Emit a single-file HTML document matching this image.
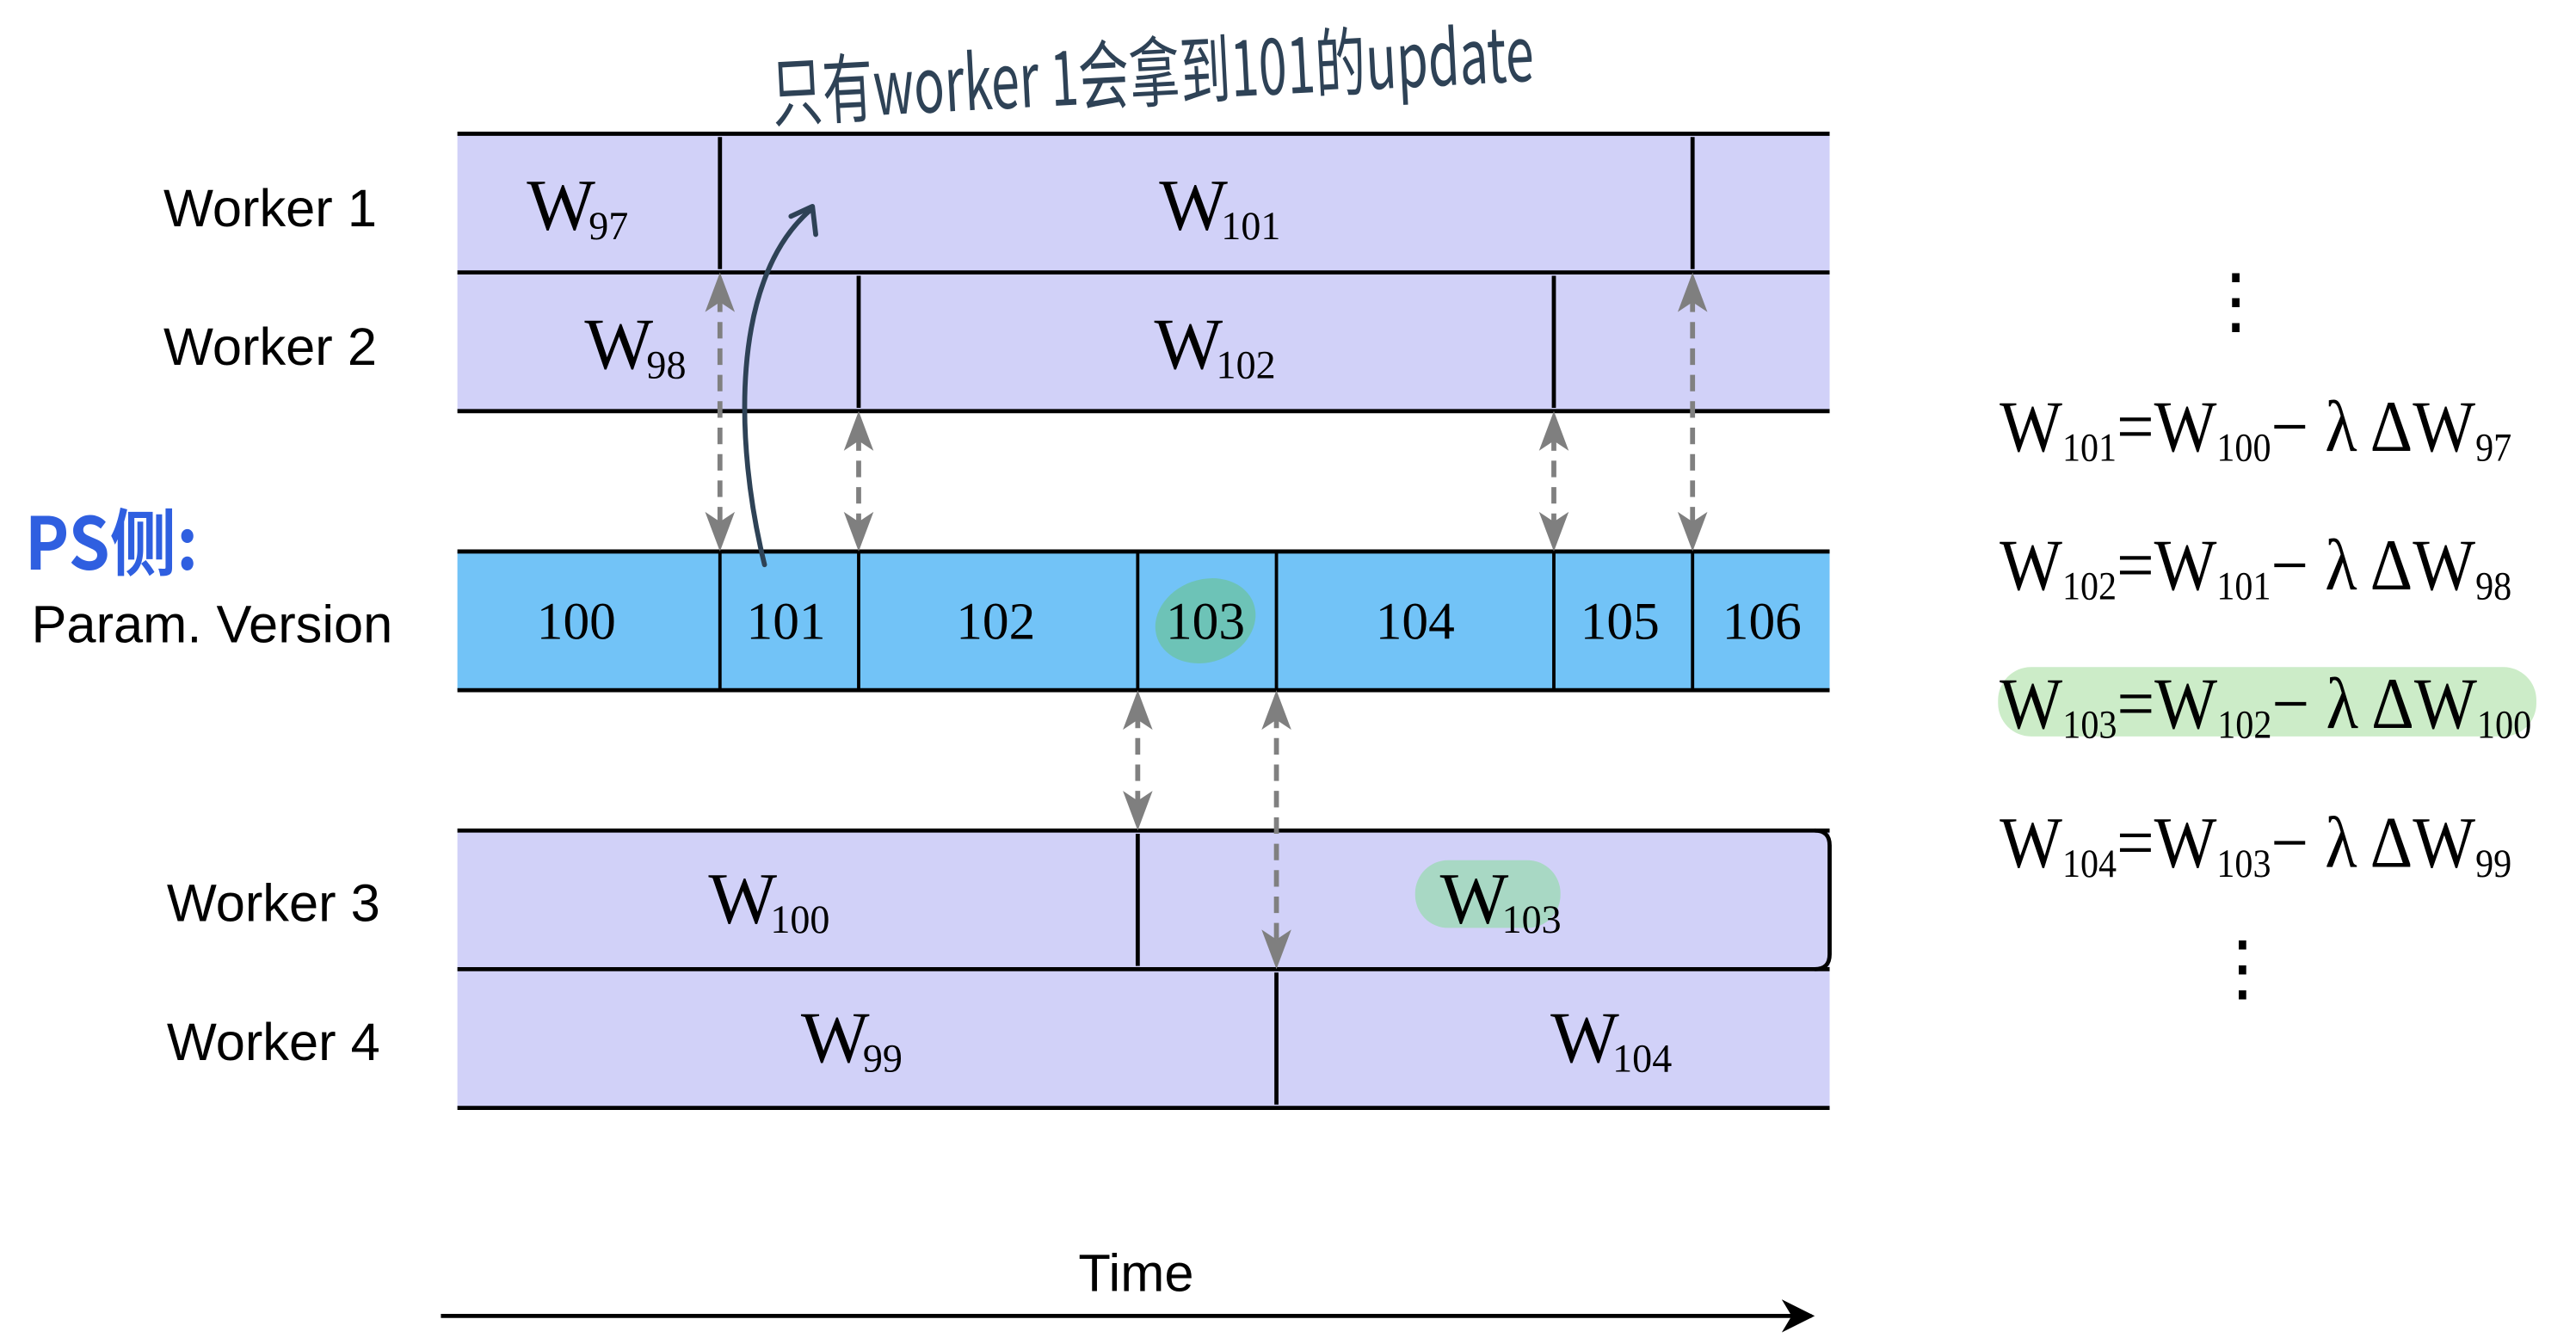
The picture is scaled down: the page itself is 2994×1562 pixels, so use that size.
<!DOCTYPE html>
<html><head><meta charset="utf-8"><style>
html,body{margin:0;padding:0;background:#fff;}
svg{display:block;}
.lbl{font-family:"Liberation Sans",sans-serif;font-size:32px;fill:#000;}
.w{font-family:"Liberation Serif",serif;font-size:44px;fill:#000;}
.s{font-size:24px;}
.n{font-family:"Liberation Serif",serif;font-size:32px;fill:#000;text-anchor:middle;}
.eq{font-family:"Liberation Serif",serif;font-size:44px;fill:#000;}
</style></head><body>
<svg width="2994" height="1562" viewBox="0 0 1560 814" preserveAspectRatio="none" xmlns="http://www.w3.org/2000/svg">
<defs>
<marker id="bh" viewBox="0 0 10 10" refX="9" refY="5" markerWidth="8" markerHeight="8" orient="auto">
<path d="M0,0 L10,5 L0,10 L3,5 z" fill="#000"/></marker>
<path id="up" d="M0,0 L9,24 L0,18 L-9,24 z" fill="#7f7f7f"/>
<path id="dn" d="M0,0 L9,-24 L0,-18 L-9,-24 z" fill="#7f7f7f"/>
</defs>
<g transform="translate(-3,-1)">
<text x="470" y="62" font-family="'WenQuanYi Zen Hei','Noto Sans CJK SC',sans-serif" font-size="46" fill="#2e4256" textLength="462" lengthAdjust="spacingAndGlyphs" transform="rotate(-3 700 45)">只有worker 1会拿到101的update</text>
<text x="18" y="346" font-family="'WenQuanYi Zen Hei','Noto Sans CJK SC',sans-serif" font-size="44" font-weight="bold" fill="#2f5fe0" textLength="105" lengthAdjust="spacingAndGlyphs">PS侧:</text>

<text class="lbl" x="102" y="138">Worker 1</text>
<text class="lbl" x="102" y="222">Worker 2</text>
<text class="lbl" x="22" y="390">Param. Version</text>
<text class="lbl" x="104" y="559">Worker 3</text>
<text class="lbl" x="104" y="643">Worker 4</text>

<g fill="#d1d1f8">
<rect x="280" y="82" width="831" height="84"/>
<rect x="280" y="166" width="831" height="84"/>
<rect x="280" y="504" width="831" height="84"/>
<rect x="280" y="588" width="831" height="84"/>
</g>
<rect x="280" y="335" width="831" height="84" fill="#72c3f7"/>
<g stroke="#000" stroke-width="2.5" fill="none">
<line x1="280" y1="82" x2="1111" y2="82"/>
<line x1="280" y1="166" x2="1111" y2="166"/>
<line x1="280" y1="250" x2="1111" y2="250"/>
<line x1="280" y1="335" x2="1111" y2="335"/>
<line x1="280" y1="419" x2="1111" y2="419"/>
<line x1="280" y1="504" x2="1111" y2="504"/>
<line x1="280" y1="588" x2="1111" y2="588"/>
<line x1="280" y1="672" x2="1111" y2="672"/>
<line x1="439" y1="84" x2="439" y2="164"/>
<line x1="1028" y1="84" x2="1028" y2="164"/>
<line x1="523" y1="168" x2="523" y2="248"/>
<line x1="944" y1="168" x2="944" y2="248"/>
<line x1="692" y1="506" x2="692" y2="586"/>
<line x1="776" y1="590" x2="776" y2="670"/>
<path d="M1102,504 Q1111,504 1111,513 L1111,579 Q1111,588 1102,588"/>
<g stroke-width="2">
<line x1="439" y1="335" x2="439" y2="419"/>
<line x1="523" y1="335" x2="523" y2="419"/>
<line x1="692" y1="335" x2="692" y2="419"/>
<line x1="776" y1="335" x2="776" y2="419"/>
<line x1="944" y1="335" x2="944" y2="419"/>
<line x1="1028" y1="335" x2="1028" y2="419"/>
</g>
</g>

<ellipse cx="733" cy="377" rx="31" ry="25" fill="#6cc3a6" opacity="0.8" transform="rotate(-20 733 377)"/>
<rect x="860" y="522" width="88" height="41" rx="20" fill="#a8d8c4"/>
<rect x="1213" y="405" width="326" height="42" rx="20" fill="#ccecc8"/>

<text class="n" x="352" y="388">100</text>
<text class="n" x="479" y="388">101</text>
<text class="n" x="606" y="388">102</text>
<text class="n" x="733" y="388" fill="#2b5230">103</text>
<text class="n" x="860" y="388">104</text>
<text class="n" x="984" y="388">105</text>
<text class="n" x="1070" y="388">106</text>

<text class="w" x="322" y="140">W<tspan class="s" dx="-4" dy="6">97</tspan></text>
<text class="w" x="705" y="140">W<tspan class="s" dx="-4" dy="6">101</tspan></text>
<text class="w" x="357" y="224">W<tspan class="s" dx="-4" dy="6">98</tspan></text>
<text class="w" x="702" y="224">W<tspan class="s" dx="-4" dy="6">102</tspan></text>
<text class="w" x="432" y="560">W<tspan class="s" dx="-4" dy="6">100</tspan></text>
<text class="w" x="875" y="560" fill="#1f3d20">W<tspan class="s" dx="-4" dy="6">103</tspan></text>
<text class="w" x="488" y="644">W<tspan class="s" dx="-4" dy="6">99</tspan></text>
<text class="w" x="942" y="644">W<tspan class="s" dx="-4" dy="6">104</tspan></text>

<g stroke="#808080" stroke-width="3" stroke-dasharray="10,6" fill="none">
<line x1="439" y1="180" x2="439" y2="320"/>
<line x1="523" y1="264" x2="523" y2="320"/>
<line x1="944" y1="264" x2="944" y2="320"/>
<line x1="1028" y1="180" x2="1028" y2="320"/>
<line x1="692" y1="432" x2="692" y2="490"/>
<line x1="776" y1="432" x2="776" y2="574"/>
</g>
<use href="#up" x="439" y="166"/><use href="#dn" x="439" y="335"/>
<use href="#up" x="523" y="250"/><use href="#dn" x="523" y="335"/>
<use href="#up" x="944" y="250"/><use href="#dn" x="944" y="335"/>
<use href="#up" x="1028" y="166"/><use href="#dn" x="1028" y="335"/>
<use href="#up" x="692" y="419"/><use href="#dn" x="692" y="504"/>
<use href="#up" x="776" y="419"/><use href="#dn" x="776" y="588"/>

<path d="M466,343 C448,270 445,170 494,128" stroke="#2e4256" stroke-width="3" fill="none" stroke-linecap="round"/>
<path d="M482,132 L495,126 L497,143" stroke="#2e4256" stroke-width="3" fill="none" stroke-linecap="round" stroke-linejoin="round"/>

<text class="eq" x="1357" y="198" text-anchor="middle" font-size="40">⋮</text>
<text class="eq" x="1214" y="274" textLength="310" lengthAdjust="spacingAndGlyphs">W<tspan class="s" font-size="26" dy="6">101</tspan><tspan dy="-6">=W</tspan><tspan class="s" font-size="26" dy="6">100</tspan><tspan dy="-6">− λ ΔW</tspan><tspan class="s" font-size="26" dy="6">97</tspan></text>
<text class="eq" x="1214" y="358" textLength="310" lengthAdjust="spacingAndGlyphs">W<tspan class="s" font-size="26" dy="6">102</tspan><tspan dy="-6">=W</tspan><tspan class="s" font-size="26" dy="6">101</tspan><tspan dy="-6">− λ ΔW</tspan><tspan class="s" font-size="26" dy="6">98</tspan></text>
<text class="eq" x="1214" y="442" fill="#1f4a22" textLength="322" lengthAdjust="spacingAndGlyphs">W<tspan class="s" font-size="26" dy="6">103</tspan><tspan dy="-6">=W</tspan><tspan class="s" font-size="26" dy="6">102</tspan><tspan dy="-6">− λ ΔW</tspan><tspan class="s" font-size="26" dy="6">100</tspan></text>
<text class="eq" x="1214" y="526" textLength="310" lengthAdjust="spacingAndGlyphs">W<tspan class="s" font-size="26" dy="6">104</tspan><tspan dy="-6">=W</tspan><tspan class="s" font-size="26" dy="6">103</tspan><tspan dy="-6">− λ ΔW</tspan><tspan class="s" font-size="26" dy="6">99</tspan></text>
<text class="eq" x="1361" y="602" text-anchor="middle" font-size="40">⋮</text>

<text class="lbl" x="691" y="783" text-anchor="middle" font-size="30">Time</text>
<line x1="270" y1="798" x2="1100" y2="798" stroke="#000" stroke-width="2.5" marker-end="url(#bh)"/>
</g>
</svg>
</body></html>
